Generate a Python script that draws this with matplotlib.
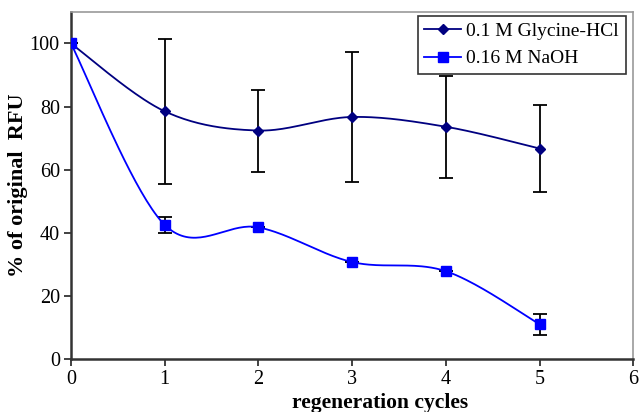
import numpy as np
import matplotlib
matplotlib.use("Agg")
import matplotlib.pyplot as plt
from matplotlib.lines import Line2D

# readings
cycles = [0, 1, 2, 3, 4, 5]
glycine = [100, 78.5, 72.4, 76.7, 73.6, 66.7]
glycine_err = [0, 23.0, 13.0, 20.6, 16.2, 13.8]
naoh = [100, 42.5, 41.7, 30.7, 27.8, 11.0]
naoh_err = [0, 2.5, 0, 0, 0, 3.3]

NAVY = "#000080"
BLUE = "#0000FF"


def smooth(xs, ys, n=40):
    """Excel-like smoothed line: Catmull-Rom segments as cubic Beziers."""
    x = np.asarray(xs, float)
    y = np.asarray(ys, float)
    px = np.concatenate([[x[0]], x, [x[-1]]])
    py = np.concatenate([[y[0]], y, [y[-1]]])
    t = np.linspace(0, 1, n)
    out_x, out_y = [], []
    for i in range(1, len(px) - 2):
        p0 = np.array([px[i], py[i]])
        p3 = np.array([px[i + 1], py[i + 1]])
        c1 = p0 + (p3 - np.array([px[i - 1], py[i - 1]])) / 6
        c2 = p3 - (np.array([px[i + 2], py[i + 2]]) - p0) / 6
        b = ((1 - t) ** 3)[:, None] * p0 + (3 * (1 - t) ** 2 * t)[:, None] * c1 \
            + (3 * (1 - t) * t ** 2)[:, None] * c2 + (t ** 3)[:, None] * p3
        out_x.extend(b[:, 0])
        out_y.extend(b[:, 1])
    return np.array(out_x), np.array(out_y)


plt.rcParams["font.family"] = ["Liberation Serif", "DejaVu Serif"]

fig = plt.figure(figsize=(6.39, 4.12), dpi=100)
ax = fig.add_axes([0.111, 0.129, 0.880, 0.842])

gx, gy = smooth(cycles, glycine)
nx, ny = smooth(cycles, naoh)
ax.plot(gx, gy, color=NAVY, lw=1.3, zorder=3)
ax.plot(nx, ny, color=BLUE, lw=1.3, zorder=3)

ax.errorbar(cycles, glycine, yerr=glycine_err, fmt="none", ecolor="black",
            elinewidth=1.3, capsize=5, capthick=1.3, zorder=2)
ax.errorbar(cycles, naoh, yerr=naoh_err, fmt="none", ecolor="black",
            elinewidth=1.3, capsize=5, capthick=1.3, zorder=2)
ax.plot(cycles, glycine, ls="none", marker="D", ms=5.5, color=NAVY, zorder=4)
ax.plot(cycles, naoh, ls="none", marker="s", ms=7, color=BLUE, zorder=4)

ax.set_xlim(0, 6)
ax.set_ylim(0, 110)
ax.set_xticks(range(0, 7))
ax.set_yticks(range(0, 101, 20))
ax.tick_params(labelsize=14.5, direction="out", length=5, width=1.3,
               color="#333333", pad=3)

for side in ("left", "bottom"):
    ax.spines[side].set_color("#333333")
    ax.spines[side].set_linewidth(1.8)
for side in ("top", "right"):
    ax.spines[side].set_color("#999999")
    ax.spines[side].set_linewidth(1.2)

ax.set_xlabel("regeneration cycles", fontsize=15.5, fontweight="bold")
ax.xaxis.set_label_coords(0.55, -0.098, transform=ax.transAxes)
ax.xaxis.label.set_va("top")
ax.set_ylabel("% of original  RFU", fontsize=16, fontweight="bold", labelpad=1)

handles = [
    Line2D([], [], color=NAVY, lw=1.3, marker="D", ms=5),
    Line2D([], [], color=BLUE, lw=1.3, marker="s", ms=6.5),
]
leg = ax.legend(handles, ["0.1 M Glycine-HCl", "0.16 M NaOH"], loc="upper right",
                bbox_to_anchor=(0.99, 0.995), fontsize=14, frameon=True,
                fancybox=False, edgecolor="black", handlelength=1.9,
                handletextpad=0.25, borderpad=0.35, labelspacing=0.5,
                borderaxespad=0.1)
leg.get_frame().set_linewidth(1.2)

fig.savefig("out.png", dpi=100)
